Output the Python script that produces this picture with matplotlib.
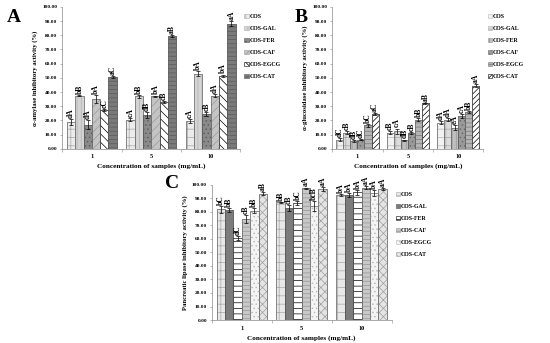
import matplotlib.pyplot as plt
import numpy as np

samples = ['COS', 'COS-GAL', 'COS-FER', 'COS-CAF', 'COS-EGCG', 'COS-CAT']
concs = ['1', '5', '10']

# alpha-amylase (rows = sample, cols = concentration)
amy_mean = [[19.0, 20.5, 19.5],
            [37.5, 37.0, 53.0],
            [17.0, 24.0, 24.5],
            [35.0, 37.0, 37.5],
            [27.5, 33.0, 51.5],
            [50.5, 79.5, 88.0]]
amy_err = [[2.0, 1.0, 1.5],
           [0.5, 1.0, 2.0],
           [3.0, 2.0, 1.5],
           [3.0, 0.5, 1.0],
           [0.8, 0.6, 0.8],
           [0.8, 0.8, 1.8]]
amy_txt = [['dA', 'cA', 'cA'],
           ['bB', 'bB', 'bA'],
           ['dA', 'dB', 'cB'],
           ['bA', 'bA', 'dA'],
           ['cC', 'cB', 'bA'],
           ['aC', 'aB', 'aA']]

# alpha-glucosidase
glu_mean = [[6.5, 11.5, 18.5],
            [11.5, 12.5, 20.5],
            [5.5, 6.0, 15.0],
            [6.5, 11.0, 23.0],
            [16.5, 20.5, 26.0],
            [24.5, 32.0, 44.5]]
glu_err = [[1.0, 0.8, 1.0],
           [1.2, 1.8, 1.2],
           [0.5, 0.5, 1.8],
           [0.5, 0.6, 1.5],
           [0.8, 1.0, 0.8],
           [0.5, 0.4, 1.0]]
glu_txt = [['dC', 'cB', 'dA'],
           ['cB', 'cA', 'dA'],
           ['dB', 'dB', 'eA'],
           ['dC', 'cB', 'cA'],
           ['bC', 'bB', 'bB'],
           ['aC', 'aB', 'aA']]

# pancreatic lipase
lip_mean = [[82.0, 87.0, 92.5],
            [81.5, 83.0, 92.5],
            [60.5, 86.5, 94.5],
            [75.0, 97.5, 98.0],
            [81.0, 84.5, 94.0],
            [93.5, 97.0, 97.0]]
lip_err = [[2.5, 0.3, 0.5],
           [1.5, 2.0, 1.5],
           [1.5, 1.5, 2.0],
           [3.0, 0.5, 1.0],
           [2.0, 3.5, 2.0],
           [1.0, 1.5, 0.8]]
lip_txt = [['bC', 'bB', 'bA'],
           ['bB', 'cB', 'bA'],
           ['dC', 'bC', 'bA'],
           ['cB', 'aA', 'aA'],
           ['bB', 'bcB', 'bA'],
           ['aB', 'aA', 'aA']]

# (facecolor, hatch, hatch/edge colour) per sample
sty_a = [('#ececec', '++', '#a8a8a8'), ('#d4d4d4', '||||', '#b0b0b0'),
         ('#8a8a8a', '....', '#5a5a5a'), ('#c4c4c4', '////', '#9a9a9a'),
         ('#ffffff', '\\\\\\\\', '#000000'), ('#7a7a7a', '----', '#5a5a5a')]
sty_b = [('#f2f2f2', '++', '#b8b8b8'), ('#dcdcdc', '++', '#a8a8a8'),
         ('#c0c0c0', '||||', '#909090'), ('#9a9a9a', '....', '#686868'),
         ('#b4b4b4', '----', '#787878'), ('#ffffff', '//////', '#000000')]
sty_c = [('#e8e8e8', '++', '#a8a8a8'), ('#7c7c7c', '', '#505050'),
         ('#ffffff', '---', '#000000'), ('#c8c8c8', '----', '#949494'),
         ('#f4f4f4', '....', '#b8b8b8'), ('#e4e4e4', 'xxxx', '#a0a0a0')]

plt.rcParams['font.family'] = ['Liberation Serif', 'DejaVu Serif']
plt.rcParams['font.weight'] = 'bold'
plt.rcParams['hatch.linewidth'] = 0.5

fig = plt.figure(figsize=(5.5, 3.43), dpi=100)


def panel(rect, mean, err, txt, styles, ylabel, letter, lpos):
    ax = fig.add_axes(rect)
    x = np.arange(len(concs))
    w = 0.14
    handles = []
    for i, name in enumerate(samples):
        fc, h, ec = styles[i]
        pos = x + (i - 2.5) * w
        b = ax.bar(pos, mean[i], w, color=fc, hatch=h, edgecolor=ec,
                   linewidth=0.4, label=name)
        handles.append(b)
        ax.bar(pos, mean[i], w, fill=False, edgecolor='#555555',
               linewidth=0.4)
        ax.errorbar(pos, mean[i], yerr=err[i], fmt='none', ecolor='black',
                    elinewidth=0.5, capsize=1.2, capthick=0.5)
        for p, m, e, t in zip(pos, mean[i], err[i], txt[i]):
            ax.text(p, m + e + 0.8, t, rotation=90, ha='center', va='bottom',
                    fontsize=5.5, fontweight='bold')
    ax.set_xlim(-0.5, 2.5)
    ax.set_ylim(0, 100)
    ax.set_yticks(np.arange(0, 101, 10))
    ax.set_yticklabels(['%.2f' % v for v in np.arange(0, 101, 10)])
    ax.set_xticks(x)
    ax.set_xticklabels(concs)
    ax.set_xticks([-0.5, 0.5, 1.5, 2.5], minor=True)
    ax.tick_params(axis='x', which='major', length=0, labelsize=4.5, pad=4)
    ax.tick_params(axis='x', which='minor', length=2, width=0.4,
                   color='#888888')
    ax.tick_params(axis='y', length=1.5, width=0.4, labelsize=3.8,
                   color='#888888', pad=2)
    for s in ['top', 'right']:
        ax.spines[s].set_visible(False)
    for s in ['left', 'bottom']:
        ax.spines[s].set_linewidth(0.5)
        ax.spines[s].set_color('#888888')
    ax.set_ylabel(ylabel, fontsize=4.8, fontweight='bold', labelpad=3)
    ax.set_xlabel('Concentration of samples (mg/mL)', fontsize=5.2,
                  fontweight='bold', labelpad=3)
    ax.legend(handles, samples,
              loc='upper left', bbox_to_anchor=(1.0, 0.98), frameon=False,
              fontsize=4.2, handlelength=0.7, handleheight=0.7,
              handletextpad=0.2, labelspacing=1.2, borderaxespad=0.3)
    fig.text(lpos[0], lpos[1], letter, fontsize=14, fontweight='bold',
             ha='center', va='center')
    return ax


panel([0.113, 0.566, 0.324, 0.414], amy_mean, amy_err, amy_txt, sty_a,
      'α-amylase inhibitory activity (%)', 'A', (0.026, 0.95))
panel([0.604, 0.566, 0.275, 0.414], glu_mean, glu_err, glu_txt, sty_b,
      'α-glucosidase inhibitory activity (%)', 'B', (0.547, 0.95))
panel([0.385, 0.067, 0.327, 0.394], lip_mean, lip_err, lip_txt, sty_c,
      'Pancreatic lipase inhibitory activity (%)', 'C', (0.313, 0.466))

fig.savefig('out.png', dpi=100)
